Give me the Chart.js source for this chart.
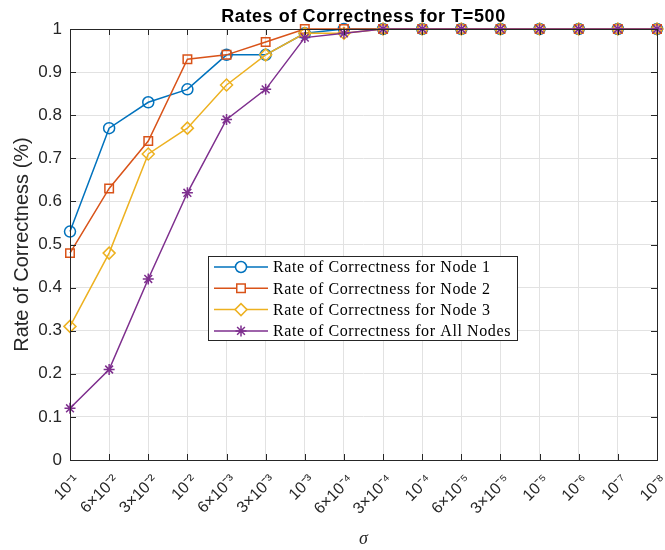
<!DOCTYPE html>
<html>
<head>
<meta charset="utf-8">
<script src="https://cdn.jsdelivr.net/npm/chart.js@4.4.0/dist/chart.umd.min.js"></script>
<style>
  html, body { margin: 0; padding: 0; background: #ffffff; }
  #wrap { width: 665px; height: 550px; }
</style>
</head>
<body>
<div id="wrap"><canvas id="rateChart" width="665" height="550"></canvas></div>
<script>
// Etiquetas del eje x (sigma)
const sigmaLabels = ['10⁻¹', '6×10⁻²', '3×10⁻²', '10⁻²', '6×10⁻³', '3×10⁻³', '10⁻³', '6×10⁻⁴',
                     '3×10⁻⁴', '10⁻⁴', '6×10⁻⁵', '3×10⁻⁵', '10⁻⁵', '10⁻⁶', '10⁻⁷', '10⁻⁸'];

// Tasas de acierto por nodo
const node1 = [0.53, 0.77, 0.83, 0.86, 0.94, 0.94, 0.99, 1, 1, 1, 1, 1, 1, 1, 1, 1];
const node2 = [0.48, 0.63, 0.74, 0.93, 0.94, 0.97, 1, 1, 1, 1, 1, 1, 1, 1, 1, 1];
const node3 = [0.31, 0.48, 0.71, 0.77, 0.87, 0.94, 0.99, 0.99, 1, 1, 1, 1, 1, 1, 1, 1];
const allNodes = [0.12, 0.21, 0.42, 0.62, 0.79, 0.86, 0.98, 0.99, 1, 1, 1, 1, 1, 1, 1, 1];

const yTicks = [0, 0.1, 0.2, 0.3, 0.4, 0.5, 0.6, 0.7, 0.8, 0.9, 1];

const axisColor = '#262626';
const gridColor = '#e2e2e2';

function serie(label, data, color, style, radius, order) {
    return {
        label: label,
        data: data,
        borderColor: color,
        backgroundColor: 'rgba(0,0,0,0)',
        borderWidth: 1.5,
        pointStyle: style,
        pointRadius: radius,
        pointHoverRadius: radius,
        pointBorderWidth: 1.5,
        pointBackgroundColor: 'rgba(0,0,0,0)',
        pointBorderColor: color,
        tension: 0,
        clip: false,
        order: order
    };
}

// Marco de ejes, ticks interiores, título y leyenda al estilo MATLAB
const matlabFrame = {
    id: 'matlabFrame',
    afterDatasetsDraw(chart) {
        const ctx = chart.ctx;
        const a = chart.chartArea;
        const xs = chart.scales.x;
        const ys = chart.scales.y;
        const tl = 6;
        ctx.save();
        ctx.strokeStyle = axisColor;
        ctx.lineWidth = 1;
        ctx.beginPath();
        xs.ticks.forEach((t, i) => {
            const px = Math.round(xs.getPixelForTick(i)) + 0.5;
            ctx.moveTo(px, a.bottom); ctx.lineTo(px, a.bottom - tl);
            ctx.moveTo(px, a.top); ctx.lineTo(px, a.top + tl);
        });
        ys.ticks.forEach((t, i) => {
            const py = Math.round(ys.getPixelForTick(i)) + 0.5;
            ctx.moveTo(a.left, py); ctx.lineTo(a.left + tl, py);
            ctx.moveTo(a.right, py); ctx.lineTo(a.right - tl, py);
        });
        ctx.stroke();
        ctx.strokeRect(Math.round(a.left) + 0.5, Math.round(a.top) + 0.5,
                       Math.round(a.right - a.left), Math.round(a.bottom - a.top));

        // Título
        ctx.fillStyle = '#000000';
        ctx.font = 'bold 18px "Liberation Sans", Arial, sans-serif';
        ctx.letterSpacing = '0.6px';
        ctx.textAlign = 'center';
        ctx.textBaseline = 'alphabetic';
        ctx.fillText('Rates of Correctness for T=500', (a.left + a.right) / 2, 22);

        // Leyenda
        const bx = 208, by = 256, bw = 309, bh = 84;
        ctx.fillStyle = '#ffffff';
        ctx.fillRect(bx, by, bw, bh);
        ctx.strokeStyle = axisColor;
        ctx.lineWidth = 1;
        ctx.strokeRect(bx + 0.5, by + 0.5, bw, bh);
        ctx.font = '16px "Liberation Serif", "Times New Roman", serif';
        ctx.letterSpacing = '0.6px';
        ctx.textAlign = 'left';
        ctx.textBaseline = 'middle';
        chart.data.datasets.forEach((ds, i) => {
            const ry = by + 11 + i * 21.3;
            ctx.strokeStyle = ds.borderColor;
            ctx.lineWidth = 1.5;
            ctx.beginPath();
            ctx.moveTo(bx + 6, ry); ctx.lineTo(bx + 60, ry);
            ctx.stroke();
            ctx.fillStyle = '#ffffff';
            Chart.helpers.drawPoint(ctx, {
                pointStyle: ds.pointStyle,
                radius: ds.pointRadius,
                rotation: 0,
                borderWidth: ds.pointBorderWidth
            }, bx + 33, ry);
            ctx.fillStyle = '#000000';
            ctx.fillText(ds.label, bx + 65, ry + 1);
        });
        ctx.restore();
    }
};

const ctx = document.getElementById('rateChart').getContext('2d');
const rateChart = new Chart(ctx, {
    type: 'line',
    data: {
        labels: sigmaLabels,
        datasets: [
            serie('Rate of Correctness for Node 1', node1, '#0072BD', 'circle', 5.5, 3),
            serie('Rate of Correctness for Node 2', node2, '#D95319', 'rect', 6, 2),
            serie('Rate of Correctness for Node 3', node3, '#EDB120', 'rectRot', 6, 1),
            serie('Rate of Correctness for All Nodes', allNodes, '#7E2F8E', 'star', 5.5, 0)
        ]
    },
    options: {
        responsive: false,
        animation: false,
        layout: { padding: { top: 29, right: 8, left: 0, bottom: 0 } },
        plugins: {
            legend: { display: false },
            title: { display: false },
            tooltip: { enabled: false }
        },
        scales: {
            x: {
                grid: { color: gridColor, drawTicks: false },
                border: { display: false },
                ticks: {
                    color: axisColor,
                    font: { family: '"Liberation Sans", Arial, sans-serif', size: 16 },
                    maxRotation: 45,
                    minRotation: 45,
                    autoSkip: false,
                    padding: 11,
                    labelOffset: 7
                },
                title: {
                    display: true,
                    text: 'σ',
                    color: axisColor,
                    font: { family: '"Liberation Serif", "Times New Roman", serif', size: 18, style: 'italic' },
                    padding: { top: 0, bottom: 0 }
                },
                afterFit(scale) {
                    scale.height = 90;
                    scale.paddingLeft = 0;
                    scale.paddingRight = 0;
                }
            },
            y: {
                min: 0,
                max: 1,
                afterBuildTicks(scale) { scale.ticks = yTicks.map(v => ({ value: v })); },
                grid: { color: gridColor, drawTicks: false },
                border: { display: false },
                ticks: {
                    color: axisColor,
                    font: { family: '"Liberation Sans", Arial, sans-serif', size: 17 },
                    padding: 8,
                    callback: v => String(+v.toFixed(1))
                },
                title: {
                    display: true,
                    text: 'Rate of Correctness (%)',
                    color: axisColor,
                    font: { family: '"Liberation Sans", Arial, sans-serif', size: 20 },
                    padding: { top: 10, bottom: 0 }
                },
                afterFit(scale) {
                    scale.width = 70;
                    scale.paddingTop = 0;
                    scale.paddingBottom = 0;
                }
            }
        }
    },
    plugins: [matlabFrame]
});
</script>
</body>
</html>
